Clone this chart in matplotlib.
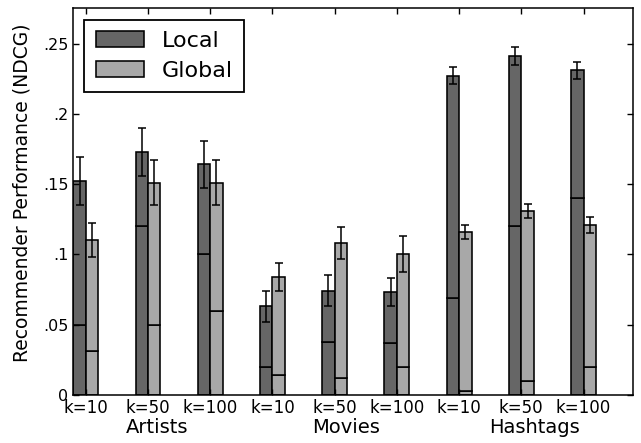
import matplotlib
matplotlib.use("Agg")
import matplotlib.pyplot as plt
from matplotlib.ticker import FuncFormatter
import numpy as np

k_labels = ["k=10", "k=50", "k=100"] * 3
groups = ["Artists", "Movies", "Hashtags"]

local_total = [0.152, 0.173, 0.164, 0.063, 0.074, 0.073, 0.227, 0.241, 0.231]
local_base  = [0.050, 0.120, 0.100, 0.020, 0.038, 0.037, 0.069, 0.120, 0.140]
local_err   = [0.017, 0.017, 0.017, 0.011, 0.011, 0.010, 0.006, 0.0066, 0.006]

global_total = [0.110, 0.151, 0.151, 0.084, 0.108, 0.100, 0.116, 0.131, 0.121]
global_base  = [0.031, 0.050, 0.060, 0.014, 0.012, 0.020, 0.003, 0.010, 0.020]
global_err   = [0.012, 0.016, 0.016, 0.010, 0.0115, 0.0128, 0.005, 0.005, 0.0055]

dark = "#666666"
light = "#a8a8a8"

fig = plt.figure(figsize=(6.41, 4.43), dpi=100)
ax = fig.add_axes([0.1144, 0.1084, 0.988 - 0.1144, 0.981 - 0.1084])

x = np.arange(len(k_labels))
w = 0.2
lt = np.array(local_total); lb = np.array(local_base)
gt = np.array(global_total); gb = np.array(global_base)

lw = 1.15
ax.bar(x - w / 2, lb, w, color=dark, edgecolor="black", linewidth=lw)
ax.bar(x - w / 2, lt - lb, w, bottom=lb, color=dark, edgecolor="black",
       linewidth=lw, label="Local")
ax.bar(x + w / 2, gb, w, color=light, edgecolor="black", linewidth=lw)
ax.bar(x + w / 2, gt - gb, w, bottom=gb, color=light, edgecolor="black",
       linewidth=lw, label="Global")
ax.errorbar(x - w / 2, lt, yerr=local_err, fmt="none", ecolor="black",
            elinewidth=1.1, capsize=2.6, capthick=1.1)
ax.errorbar(x + w / 2, gt, yerr=global_err, fmt="none", ecolor="black",
            elinewidth=1.1, capsize=2.6, capthick=1.1)

ax.set_xlim(-0.2, 8.8)
ax.set_ylim(0, 0.275)
ax.set_xticks(x)
ax.set_xticklabels(k_labels, fontsize=12)
ax.set_yticks([0, 0.05, 0.1, 0.15, 0.2, 0.25])

def fmt(v, pos):
    if abs(v) < 1e-9:
        return "0"
    return ("%g" % v).lstrip("0")

ax.yaxis.set_major_formatter(FuncFormatter(fmt))
ax.tick_params(axis="y", labelsize=11.5)
ax.tick_params(direction="in", top=True, right=True, length=4, width=1.0)
ax.tick_params(axis="x", pad=3)
for s in ax.spines.values():
    s.set_linewidth(1.1)

group_x = [1.14, 4.19, 7.21]
for gx, g in zip(group_x, groups):
    ax.text(gx, -0.0233, g, ha="center", va="center", fontsize=14,
            transform=ax.transData)

ax.set_ylabel("Recommender Performance (NDCG)", fontsize=13.5)
ax.yaxis.set_label_coords(-0.074, 0.524)

leg = ax.legend(loc="upper left", fontsize=16, fancybox=False, framealpha=1,
                edgecolor="black", handlelength=2.2, handleheight=0.75,
                borderpad=0.5, labelspacing=0.45, handletextpad=0.8,
                borderaxespad=0.5)
leg.get_frame().set_linewidth(1.3)

fig.savefig("out.png", dpi=100)
